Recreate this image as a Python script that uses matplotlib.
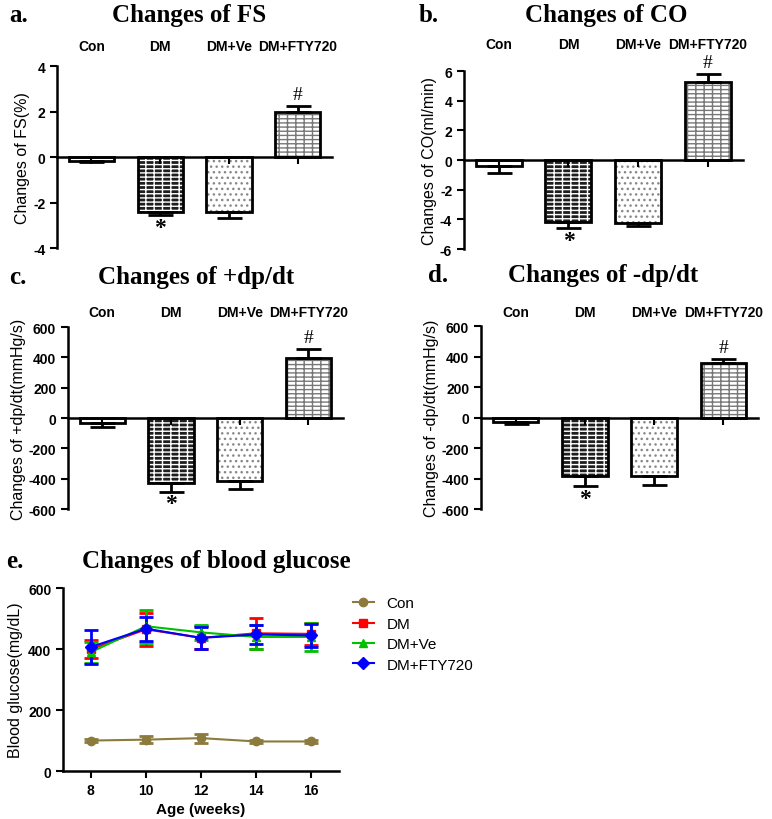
import matplotlib.pyplot as plt
from matplotlib.lines import Line2D
import numpy as np

plt.rcParams['font.family'] = ['Liberation Sans', 'DejaVu Sans']

groups = ['Con', 'DM', 'DM+Ve', 'DM+FTY720']

fs_mean = [-0.15, -2.4, -2.42, 2.0]
fs_err = [0.08, 0.15, 0.25, 0.25]
co_mean = [-0.4, -4.2, -4.25, 5.3]
co_err = [0.45, 0.4, 0.2, 0.5]
pdp_mean = [-30, -430, -415, 395]
pdp_err = [30, 55, 50, 60]
ndp_mean = [-30, -380, -380, 360]
ndp_err = [15, 70, 65, 25]

weeks = [8, 10, 12, 14, 16]
glu_con = [100, 103, 108, 97, 97]
glu_con_err = [4, 12, 15, 4, 4]
glu_dm = [400, 465, 437, 452, 450]
glu_dm_err = [30, 55, 38, 50, 35]
glu_ve = [390, 475, 455, 440, 440]
glu_ve_err = [35, 55, 25, 40, 45]
glu_fty = [407, 467, 437, 448, 445]
glu_fty_err = [55, 40, 35, 30, 38]

fig = plt.figure(figsize=(7.72, 8.2), dpi=100)


def bar_panel(rect, mean, err, ylim, yticks, ylabel, letter, title, lab_off, title_x, letter_x, title_y):
    ax = fig.add_axes(rect)
    x = np.arange(len(groups))
    w = 0.66
    # fill / hatch layers
    ax.bar(x[0], mean[0], w, color='white', edgecolor='white', linewidth=0)
    ax.bar(x[1], mean[1], w, color='#1e1e1e', edgecolor='white', hatch='----||', linewidth=0)
    ax.bar(x[2], mean[2], w, color='white', edgecolor='#888888', hatch='...', linewidth=0)
    ax.bar(x[3], mean[3], w, color='white', edgecolor='#777777', hatch='----||', linewidth=0)
    # outlines
    ax.bar(x, mean, w, fill=False, edgecolor='black', linewidth=2, zorder=3)
    lo = [e if m < 0 else 0 for m, e in zip(mean, err)]
    hi = [e if m >= 0 else 0 for m, e in zip(mean, err)]
    ax.errorbar(x, mean, yerr=[lo, hi], fmt='none', ecolor='black', elinewidth=2,
                capsize=9, capthick=2, zorder=4)
    span = ylim[1] - ylim[0]
    ax.text(x[1], mean[1] - err[1] - 0.01 * span, '*', ha='center', va='top',
            fontsize=17, fontweight='bold', family=['Liberation Serif'])
    ax.text(x[3], mean[3] + err[3] + 0.015 * span, '#', ha='center', va='bottom',
            fontsize=14, family=['Liberation Serif'])
    # group names above the plot
    for xi, g in zip(x, groups):
        ax.annotate(g, xy=(xi, 1.0), xycoords=('data', 'axes fraction'),
                    xytext=(0, lab_off), textcoords='offset points',
                    ha='center', va='center', fontsize=10, fontweight='bold')
    ax.set_xlim(-0.5, 3.5)
    ax.set_ylim(ylim)
    ax.set_yticks(yticks, labels=[str(t) for t in yticks], fontweight='bold')
    ax.set_xticks(x)
    ax.tick_params(axis='x', labelbottom=False, direction='out', length=5, width=1.5)
    ax.tick_params(axis='y', direction='out', length=5, width=1.5, labelsize=10)
    ax.spines['top'].set_visible(False)
    ax.spines['right'].set_visible(False)
    ax.spines['bottom'].set_position(('data', 0))
    ax.spines['left'].set_linewidth(1.8)
    ax.spines['bottom'].set_linewidth(1.8)
    ax.set_ylabel(ylabel, fontsize=11.5, labelpad=2)
    fig.text(letter_x, title_y, letter, fontsize=18, fontweight='bold',
             family=['Liberation Serif'], ha='left', va='center')
    fig.text(title_x, title_y, title, fontsize=18, fontweight='bold',
             family=['Liberation Serif'], ha='center', va='center')
    return ax


bar_panel([0.074, 0.696, 0.356, 0.222], fs_mean, fs_err, (-4, 4), [-4, -2, 0, 2, 4],
          'Changes of FS(%)', 'a.', 'Changes of FS', 14.4, 0.245, 0.012, 0.981)
bar_panel([0.601, 0.695, 0.361, 0.217], co_mean, co_err, (-6, 6), [-6, -4, -2, 0, 2, 4, 6],
          'Changes of CO(ml/min)', 'b.', 'Changes of CO', 19.4, 0.785, 0.542, 0.981)
bar_panel([0.088, 0.378, 0.356, 0.222], pdp_mean, pdp_err, (-600, 600),
          [-600, -400, -200, 0, 200, 400, 600],
          'Changes of +dp/dt(mmHg/s)', 'c.', 'Changes of +dp/dt', 10.8, 0.254, 0.012, 0.662)
bar_panel([0.623, 0.378, 0.359, 0.223], ndp_mean, ndp_err, (-600, 600),
          [-600, -400, -200, 0, 200, 400, 600],
          'Changes of -dp/dt(mmHg/s)', 'd.', 'Changes of -dp/dt', 10, 0.781, 0.555, 0.664)

# panel e
ax = fig.add_axes([0.082, 0.0585, 0.357, 0.223])
series = [
    ('Con', glu_con, glu_con_err, '#8c7b3c', 'o', 6),
    ('DM', glu_dm, glu_dm_err, '#ff0000', 's', 6),
    ('DM+Ve', glu_ve, glu_ve_err, '#00c000', '^', 6),
    ('DM+FTY720', glu_fty, glu_fty_err, '#0000ff', 'D', 6),
]
handles = []
for name, y, e, c, m, ms in series:
    ax.errorbar(weeks, y, yerr=e, color=c, marker=m, markersize=ms, linewidth=1.5,
                elinewidth=2, capsize=5, capthick=2)
    handles.append(Line2D([], [], color=c, marker=m, markersize=ms, linewidth=1.5, label=name))
ax.set_xlim(7, 17)
ax.set_ylim(0, 600)
ax.set_xticks(weeks, labels=[str(w) for w in weeks], fontweight='bold')
ax.set_yticks([0, 200, 400, 600], labels=['0', '200', '400', '600'], fontweight='bold')
ax.spines['top'].set_visible(False)
ax.spines['right'].set_visible(False)
ax.spines['left'].set_linewidth(1.8)
ax.spines['bottom'].set_linewidth(1.8)
ax.tick_params(direction='out', length=5, width=1.5, labelsize=10)
ax.set_xlabel('Age (weeks)', fontsize=11, fontweight='bold')
ax.set_ylabel('Blood glucose(mg/dL)', fontsize=11.5)
ax.legend(handles=handles, loc='upper left', bbox_to_anchor=(1.0, 1.03), frameon=False,
          fontsize=11, handlelength=1.4, labelspacing=0.42)
fig.text(0.008, 0.315, 'e.', fontsize=18, fontweight='bold', family=['Liberation Serif'],
         ha='left', va='center')
fig.text(0.28, 0.315, 'Changes of blood glucose', fontsize=18, fontweight='bold',
         family=['Liberation Serif'], ha='center', va='center')

fig.savefig('out.png', dpi=100)
